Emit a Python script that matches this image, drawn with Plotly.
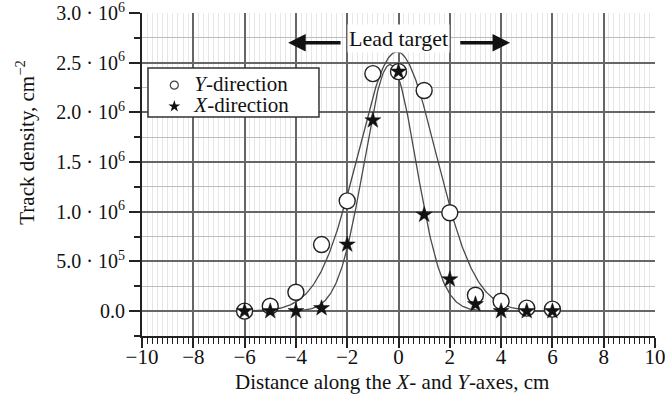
import numpy as np
import plotly.graph_objects as go

# Measured track densities along the two scan directions (cm^-2)
positions = [-6, -5, -4, -3, -2, -1, 0, 1, 2, 3, 4, 5, 6]
y_direction = [0.0e6, 0.05e6, 0.19e6, 0.67e6, 1.11e6, 2.39e6, 2.41e6, 2.22e6,
               0.99e6, 0.16e6, 0.10e6, 0.03e6, 0.02e6]
x_direction = [0.0e6, 0.0e6, 0.0e6, 0.03e6, 0.67e6, 1.92e6, 2.41e6, 0.97e6,
               0.32e6, 0.07e6, 0.0e6, 0.0e6, 0.0e6]

# Gaussian fit parameters: amplitude, centre (cm), sigma (cm)
y_fit = (2.61e6, -0.06, 1.525)
x_fit = (2.48e6, -0.33, 1.01)

x_ticks = [-10, -8, -6, -4, -2, 0, 2, 4, 6, 8, 10]
x_tick_text = ["\u221210", "\u22128", "\u22126", "\u22124", "\u22122", "0",
               "2", "4", "6", "8", "10"]
y_ticks = [0.0, 0.5e6, 1.0e6, 1.5e6, 2.0e6, 2.5e6, 3.0e6]
y_tick_text = ["0.0", "5.0 \u00b7 10<sup>5</sup>", "1.0 \u00b7 10<sup>6</sup>",
               "1.5 \u00b7 10<sup>6</sup>", "2.0 \u00b7 10<sup>6</sup>",
               "2.5 \u00b7 10<sup>6</sup>", "3.0 \u00b7 10<sup>6</sup>"]

FONT = "Liberation Serif"
FS = 21


def gauss(x, amp, mu, sigma):
    return amp * np.exp(-((x - mu) ** 2) / (2 * sigma ** 2))


def big(s):
    return f'<span style="font-size:{FS}px">{s}</span>'


xs = np.linspace(-6, 6, 400)

fig = go.Figure()

for p in (y_fit, x_fit):
    fig.add_trace(go.Scatter(
        x=xs, y=gauss(xs, *p), mode="lines",
        line=dict(color="#4a4a4a", width=1.3), showlegend=False,
        hoverinfo="skip"))

fig.add_trace(go.Scatter(
    x=positions, y=y_direction, mode="markers", showlegend=False,
    marker=dict(symbol="circle", size=16, color="white",
                line=dict(color="#222", width=1.4))))
fig.add_trace(go.Scatter(
    x=positions, y=x_direction, mode="markers", showlegend=False,
    marker=dict(symbol="star", size=12, color="#111",
                line=dict(color="#111", width=0.5))))

# legend entries with smaller symbols
fig.add_trace(go.Scatter(
    x=[None], y=[None], mode="markers", name=big("<i>Y</i>-direction"),
    marker=dict(symbol="circle-open", size=8, color="#444",
                line=dict(width=1.2))))
fig.add_trace(go.Scatter(
    x=[None], y=[None], mode="markers", name=big("<i>X</i>-direction"),
    marker=dict(symbol="star", size=9, color="#111")))

# legend frame
fig.add_shape(type="rect", xref="paper", yref="paper",
              x0=0.0117, x1=0.345, y0=0.678, y1=0.830,
              line=dict(color="#333", width=1.5), fillcolor="white",
              layer="above")

# "Lead target" label with arrows
fig.add_annotation(x=0, y=2.745e6, text="Lead target", showarrow=False,
                   bgcolor="white", font=dict(family=FONT, size=22, color="#111"),
                   borderpad=1)
for tail, head in ((-2.2, -4.3), (2.35, 4.35)):
    fig.add_annotation(x=head, y=2.70e6, ax=tail, ay=2.70e6,
                       axref="x", ayref="y", xref="x", yref="y",
                       text="", showarrow=True, arrowhead=2, arrowsize=1.0,
                       arrowwidth=3.5, arrowcolor="#111")

# axis titles
fig.add_annotation(xref="paper", yref="paper", x=0.487, y=-0.142,
                   xanchor="center", yanchor="middle", showarrow=False,
                   text="Distance along the <i>X</i>- and <i>Y</i>-axes, cm",
                   font=dict(family=FONT, size=FS, color="#111"))
fig.add_annotation(xref="paper", yref="paper", x=-0.227, y=0.60,
                   xanchor="center", yanchor="middle", showarrow=False,
                   textangle=-90,
                   text="Track density, cm<sup>\u22122</sup>",
                   font=dict(family=FONT, size=FS, color="#111"))

fig.update_layout(
    width=665, height=398,
    margin=dict(l=142, r=10, t=13, b=62, autoexpand=False),
    paper_bgcolor="white", plot_bgcolor="white",
    font=dict(family=FONT, size=FS, color="#111"),
    legend=dict(x=0.024, y=0.825, xanchor="left", yanchor="top",
                bgcolor="rgba(0,0,0,0)", borderwidth=0,
                font=dict(family=FONT, size=14, color="#111"),
                itemsizing="trace", tracegroupgap=0),
)

fig.update_xaxes(
    range=[-10, 10], tickvals=x_ticks, ticktext=x_tick_text,
    ticklabeloverflow="allow", automargin=False, ticklabelstandoff=-9,
    showline=True, linecolor="#222", linewidth=2,
    ticks="outside", ticklen=10, tickwidth=1.5, tickcolor="#222",
    showgrid=True, gridcolor="#666", gridwidth=1.5, zeroline=False,
    minor=dict(dtick=0.2, ticks="outside", ticklen=6, tickcolor="#222",
               tickwidth=1, showgrid=True, gridcolor="#e6e6e6", gridwidth=1),
    tickfont=dict(family=FONT, size=FS),
)
fig.update_yaxes(
    range=[-0.25e6, 3.0e6], tickvals=y_ticks, ticktext=y_tick_text,
    ticklabeloverflow="allow", automargin=False,
    showline=True, linecolor="#222", linewidth=2,
    ticks="outside", ticklen=11, tickwidth=1.5, tickcolor="#222",
    showgrid=True, gridcolor="#666", gridwidth=1.5, zeroline=False,
    minor=dict(dtick=0.25e6, tick0=0, ticks="outside", ticklen=6,
               tickcolor="#222", tickwidth=1.5, showgrid=True,
               gridcolor="#bdbdbd", gridwidth=1),
    tickfont=dict(family=FONT, size=FS - 1),
)

fig.write_html("out.html")
